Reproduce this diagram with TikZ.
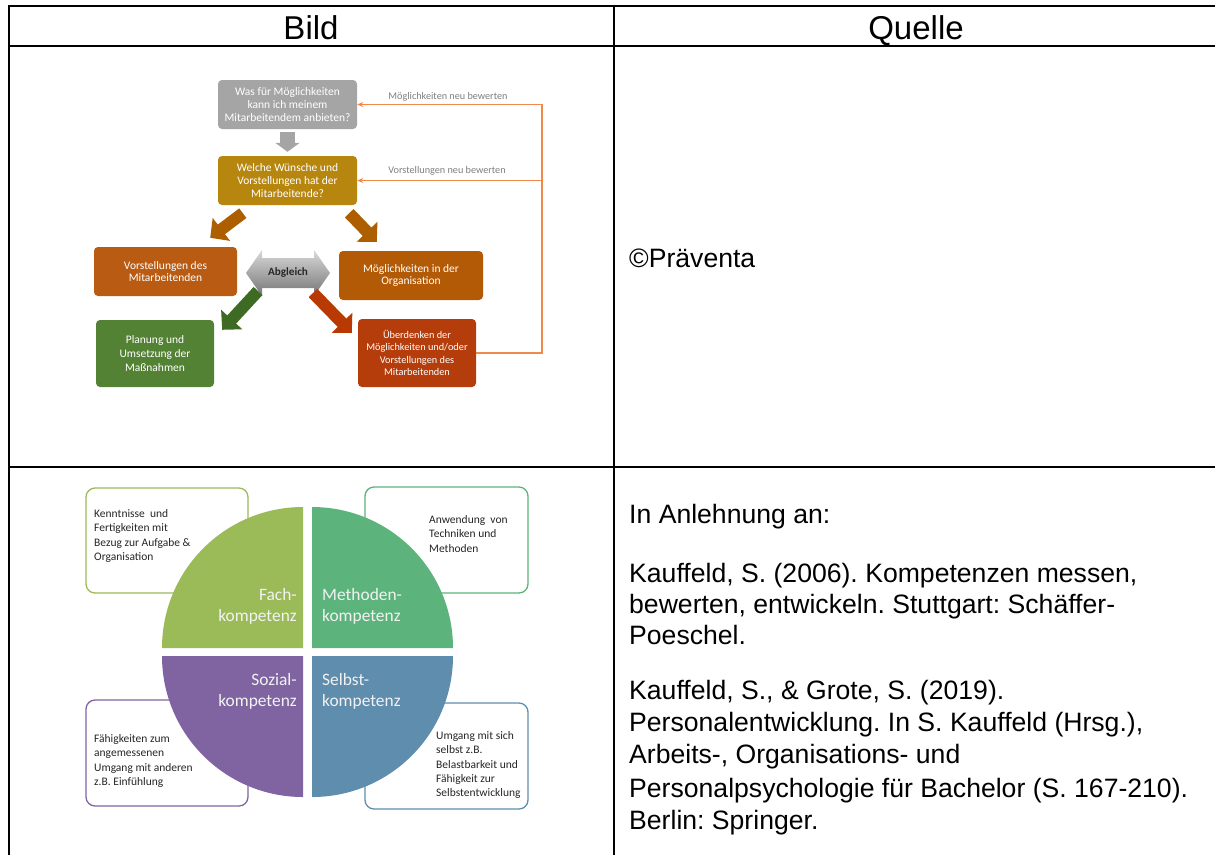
\documentclass[tikz,border=0pt]{standalone}
\usepackage{fontspec}
\setmainfont{Liberation Sans}
\newfontfamily\carl{Carlito}
\usetikzlibrary{arrows.meta,calc}
\definecolor{boxgray}{HTML}{A5A5A5}
\definecolor{boxgold}{HTML}{B7860F}
\definecolor{boxorange}{HTML}{B95B12}
\definecolor{boxorangeb}{HTML}{B35A06}
\definecolor{arrorange}{HTML}{AD5F00}
\definecolor{boxgreen}{HTML}{548235}
\definecolor{arrgreen}{HTML}{3E6B23}
\definecolor{boxred}{HTML}{B53C0B}
\definecolor{arrred}{HTML}{B83A02}
\definecolor{fbline}{HTML}{F08A4B}
\definecolor{lblgray}{HTML}{7F7F7F}
\definecolor{qfach}{HTML}{9BBB59}
\definecolor{qmeth}{HTML}{5CB47C}
\definecolor{qsoz}{HTML}{8064A2}
\definecolor{qselbst}{HTML}{5F8DAE}
\definecolor{desctext}{HTML}{262626}
\begin{document}
\frenchspacing
\begin{tikzpicture}[x=1pt,y=-1pt,
  tbl/.style={line width=2pt, draw=black},
  hdr/.style={inner sep=0pt, anchor=base, font=\fontsize{33}{38}\selectfont},
  src/.style={inner sep=0pt, anchor=base west, font=\fontsize{26.6}{30}\selectfont},
  flowbox/.style={rounded corners=4pt, inner sep=0pt, align=center, text=white,
    font=\carl\fontsize{11.5}{12.8}\selectfont},
  blk/.style={line width=12pt, -{Triangle[width=28pt,length=14pt]}},
  fb/.style={draw=fbline, line width=1.2pt, -{Stealth[length=6pt,width=5pt]}},
  fblbl/.style={inner sep=0pt, text=lblgray, font=\carl\fontsize{10.2}{12}\selectfont},
  descbox/.style={draw, rounded corners=9pt, line width=1.3pt, fill=white, inner sep=0pt},
  desc/.style={inner sep=0pt, anchor=west, align=left, text=desctext,
    font=\carl\fontsize{11.5}{14.2}\selectfont},
  qlbl/.style={inner sep=0pt, text=white!95!black, font=\carl\fontsize{17.4}{21}\selectfont}]
\useasboundingbox (0,0) rectangle (1215,855);
\fill[white] (0,0) rectangle (1215,855);

% ---------- table ----------
\draw[tbl] (8,6) -- (1215,6);
\draw[tbl] (8,46) -- (1215,46);
\draw[tbl] (8,467) -- (1215,467);
\draw[tbl] (9,5) -- (9,855);
\draw[tbl] (614,5) -- (614,855);

\node[hdr] (hbild) at (311,39) {Bild};
\node[hdr] (hquelle) at (916,39) {Quelle};

\node[src] (q1) at (629,267) {©Präventa};
\node[src] (r1) at (629,523) {In Anlehnung an:};
\node[src] (r2) at (629,582) {Kauffeld, S. (2006). Kompetenzen messen,};
\node[src] (r3) at (629,613) {bewerten, entwickeln. Stuttgart: Schäffer-};
\node[src] (r4) at (629,644) {Poeschel.};
\node[src] (r5) at (629,699) {Kauffeld, S., \& Grote, S. (2019).};
\node[src] (r6) at (629,731) {Personalentwicklung. In S. Kauffeld (Hrsg.),};
\node[src] (r7) at (629,763) {Arbeits-, Organisations- und};
\node[src] (r8) at (629,797) {Personalpsychologie für Bachelor (S. 167-210).};
\node[src] (r9) at (629,829) {Berlin: Springer.};

% ---------- top diagram ----------
\node[flowbox, fill=boxgray, minimum width=139pt, minimum height=49pt] (b1) at (287.5,104.5)
  {Was für Möglichkeiten\\kann ich meinem\\Mitarbeitendem anbieten?};
\node[flowbox, fill=boxgold, minimum width=139pt, minimum height=49pt] (b2) at (287.5,180.5)
  {Welche Wünsche und\\Vorstellungen hat der\\Mitarbeitende?};
\node[flowbox, fill=boxorange, minimum width=143pt, minimum height=49pt] (b3) at (165.5,271.5)
  {Vorstellungen des\\Mitarbeitenden};
\node[flowbox, fill=boxorangeb, minimum width=144pt, minimum height=49pt] (b4) at (411,275.5)
  {Möglichkeiten in der\\Organisation};
\node[flowbox, fill=boxgreen, minimum width=118pt, minimum height=67pt,
  font=\carl\fontsize{11.5}{14}\selectfont] (b5) at (155,353.5)
  {Planung und\\Umsetzung der\\Maßnahmen};
\node[flowbox, fill=boxred, minimum width=118pt, minimum height=68pt,
  font=\carl\fontsize{10.3}{12.6}\selectfont] (b6) at (417,353)
  {Überdenken der\\Möglichkeiten und/oder\\Vorstellungen des\\Mitarbeitenden};

\begin{scope}[shift={(288,273)}]
  \path[top color=gray!30, bottom color=gray!80!black!90]
    (-42,0) -- (-26,-23) -- (-26,-15) -- (26,-15) -- (26,-23) -- (42,0)
    -- (26,23) -- (26,15) -- (-26,15) -- (-26,23) -- cycle;
  \node[inner sep=0pt, text=desctext, font=\carl\bfseries\fontsize{11.2}{13}\selectfont] (abg) at (0,0) {Abgleich};
\end{scope}

\draw[draw=boxgray, line width=15pt, -{Triangle[width=24pt,length=9pt]}]
  ($(b1.south)+(0,3)$) -- ($(b2.north)+(0,-4)$);
\draw[blk, draw=arrorange] ($(b2.south west)+(25,8)$) -- ($(b3.north east)+(-27,-9)$);
\draw[blk, draw=arrorange] ($(b2.south east)+(-8,8)$) -- ($(b4.north west)+(38,-9)$);
\draw[blk, draw=arrgreen] ($(abg)+(-30,18)$) -- ($(b5.north east)+(8,10)$);
\draw[blk, draw=arrred] ($(abg)+(25,20)$) -- ($(b6.north west)+(-6,14)$);

\coordinate (fbx) at (542,0);
\draw[fb] (b6.east) -| (fbx|-b1.east) -- (b1.east);
\draw[fb] (fbx|-b2.east) -- (b2.east);
\node[fblbl] (l1) at (448,97) {Möglichkeiten neu bewerten};
\node[fblbl] (l2) at (447,171) {Vorstellungen neu bewerten};

% ---------- bottom diagram ----------
\node[descbox, draw=qfach, minimum width=162pt, minimum height=105pt] (dfach) at (167,540.5) {};
\node[descbox, draw=qmeth, minimum width=163pt, minimum height=106pt] (dmeth) at (446.5,540) {};
\node[descbox, draw=qsoz, minimum width=162pt, minimum height=106pt] (dsoz) at (167,753) {};
\node[descbox, draw=qselbst, minimum width=163pt, minimum height=106pt] (dselbst) at (446.5,756) {};

\fill[qfach] (303,648) -- (162,648) arc[start angle=180, end angle=270, radius=141] -- cycle;
\fill[qmeth] (312,648) -- (312,507) arc[start angle=270, end angle=360, radius=141] -- cycle;
\fill[qsoz] (303,656) -- (162,656) arc[start angle=180, end angle=90, radius=141] -- cycle;
\fill[qselbst] (312,656) -- (453,656) arc[start angle=0, end angle=90, radius=141] -- cycle;

\node[qlbl, align=right, anchor=east] (tfach) at (297,606.5) {Fach-\\kompetenz};
\node[qlbl, align=left, anchor=west] (tmeth) at (322,606.5) {Methoden-\\kompetenz};
\node[qlbl, align=right, anchor=east] (tsoz) at (297,691.5) {Sozial-\\kompetenz};
\node[qlbl, align=left, anchor=west] (tselbst) at (322,691.5) {Selbst-\\kompetenz};

\node[desc] (xfach) at (94,536) {Kenntnisse\ \ und\\Fertigkeiten mit\\Bezug zur Aufgabe \&\\Organisation};
\node[desc] (xmeth) at (429,534) {Anwendung\ \ von\\Techniken und\\Methoden};
\node[desc] (xsoz) at (94,761) {Fähigkeiten zum\\angemessenen\\Umgang mit anderen\\z.B. Einfühlung};
\node[desc] (xselbst) at (436,765) {Umgang mit sich\\selbst z.B.\\Belastbarkeit und\\Fähigkeit zur\\Selbstentwicklung};
\end{tikzpicture}
\end{document}
